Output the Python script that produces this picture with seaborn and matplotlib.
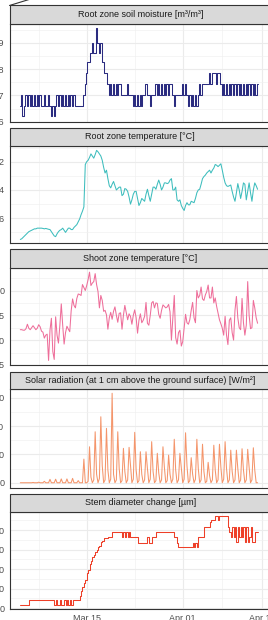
import numpy as np
import pandas as pd
import matplotlib
matplotlib.use("Agg")
import matplotlib.pyplot as plt
import matplotlib.dates as mdates
from matplotlib.lines import Line2D
from matplotlib.patches import Rectangle
from matplotlib.ticker import FixedLocator
import seaborn as sns

sns.set_theme(style="white")
plt.rcParams["font.family"] = ["Liberation Sans", "DejaVu Sans"]

# ---------------- data (6-hourly, from 2021-03-03 06:00) ----------------
start_time = "2021-03-03 06:00"

soil_moisture = [
    0.266, 0.270, 0.262,                 # Mar 03
    0.266, 0.270, 0.266, 0.270,          # Mar 04
    0.266, 0.270, 0.266, 0.270,          # Mar 05
    0.266, 0.270, 0.266, 0.270,          # Mar 06
    0.266, 0.266, 0.270, 0.266,          # Mar 07
    0.266, 0.270, 0.266, 0.262,          # Mar 08
    0.266, 0.262, 0.266, 0.270,          # Mar 09
    0.266, 0.270, 0.266, 0.270,          # Mar 10
    0.266, 0.270, 0.266, 0.270,          # Mar 11
    0.266, 0.270, 0.266, 0.270,          # Mar 12
    0.266, 0.266, 0.266, 0.266,          # Mar 13
    0.266, 0.266, 0.270, 0.2745,         # Mar 14
    0.2785, 0.2825, 0.2825, 0.286,       # Mar 15
    0.290, 0.286, 0.286, 0.2955,         # Mar 16
    0.290, 0.286, 0.290, 0.2825,         # Mar 17
    0.2825, 0.2785, 0.2785, 0.2745,      # Mar 18
    0.270, 0.2745, 0.270, 0.2745,        # Mar 19
    0.270, 0.2745, 0.270, 0.2745,        # Mar 20
    0.2745, 0.270, 0.270, 0.270,         # Mar 21
    0.270, 0.2745, 0.270, 0.270,         # Mar 22
    0.270, 0.266, 0.270, 0.266,          # Mar 23
    0.270, 0.266, 0.270, 0.266,          # Mar 24
    0.270, 0.270, 0.2745, 0.270,         # Mar 25
    0.270, 0.266, 0.270, 0.270,          # Mar 26
    0.270, 0.2745, 0.270, 0.2745,        # Mar 27
    0.270, 0.2745, 0.270, 0.2745,        # Mar 28
    0.270, 0.2745, 0.270, 0.2745,        # Mar 29
    0.2745, 0.270, 0.266, 0.270,         # Mar 30
    0.270, 0.270, 0.270, 0.270,          # Mar 31
    0.2745, 0.270, 0.2745, 0.270,        # Apr 01
    0.266, 0.270, 0.266, 0.270,          # Apr 02
    0.266, 0.270, 0.266, 0.270,          # Apr 03
    0.2745, 0.270, 0.2745, 0.2745,       # Apr 04
    0.2745, 0.2745, 0.2745, 0.2785,      # Apr 05
    0.2745, 0.2785, 0.2785, 0.2785,      # Apr 06
    0.2745, 0.2785, 0.2785, 0.2745,      # Apr 07
    0.270, 0.2745, 0.270, 0.2745,        # Apr 08
    0.270, 0.2745, 0.270, 0.2745,        # Apr 09
    0.270, 0.2745, 0.270, 0.2745,        # Apr 10
    0.270, 0.2745, 0.270, 0.2745,        # Apr 11
    0.270, 0.2745, 0.270, 0.2745,        # Apr 12
    0.270, 0.2745, 0.270, 0.2745,        # Apr 13
    0.270, 0.2745,                       # Apr 14
]

root_temp = [
    -7.5, -7.45, -7.35,
    -7.25, -7.15, -7.05, -6.95,
    -6.9, -6.85, -6.8, -6.75,
    -6.75, -6.7, -6.7, -6.7,
    -6.7, -6.72, -6.75, -6.72,
    -6.75, -6.78, -6.8, -6.95,
    -7.1, -7.25, -7.3, -7.1,
    -6.95, -6.85, -6.8, -6.7,
    -6.85, -7.0, -6.85, -6.7,
    -6.7, -6.8, -6.8, -6.65,
    -6.55, -6.45, -6.25, -6.05,
    -5.75, -5.5, -5.2, -2.2,
    -2.0, -1.9, -1.7, -1.45,
    -1.6, -1.75, -1.5, -1.2,
    -1.3, -1.45, -1.6, -1.9,
    -2.4, -2.8, -2.6, -3.2,
    -3.7, -3.85, -3.6, -3.4,
    -3.7, -4.0, -3.9, -3.8,
    -3.8, -4.4, -4.3, -3.9,
    -3.95, -4.1, -4.5, -5.0,
    -4.7, -4.3, -4.1, -4.1,
    -4.6, -5.1, -4.9, -4.6,
    -4.7, -4.8, -4.3, -3.95,
    -4.4, -4.8, -4.3, -3.8,
    -3.8, -3.95, -3.6, -3.3,
    -3.6, -4.0, -3.8, -3.5,
    -3.5, -3.55, -3.5, -3.3,
    -3.2, -4.0, -4.0, -3.8,
    -4.7, -4.8, -4.7, -5.1,
    -5.3, -5.45, -5.1, -4.9,
    -5.05, -5.05, -4.8, -4.85,
    -4.9, -4.6, -4.2, -4.0,
    -3.95, -3.6, -3.2, -3.05,
    -2.95, -2.8, -2.7, -2.6,
    -2.8, -2.6, -2.45, -2.2,
    -2.25, -2.35, -2.25, -2.15,
    -2.6, -3.1, -3.5, -3.7,
    -3.75, -3.7, -3.65, -4.1,
    -4.5, -4.8, -4.2, -3.55,
    -4.0, -4.6, -4.1, -3.5,
    -3.6, -4.7, -4.1, -3.5,
    -4.2, -4.8, -4.0, -3.5,
    -3.7, -3.95,
]

shoot_temp = [
    -7.9, -7.9, -8.0,
    -8.0, -7.7, -6.8, -7.6,
    -7.9, -7.5, -7.1, -7.5,
    -7.9, -7.6, -6.9, -7.3,
    -8.2, -8.4, -9.6, -9.0,
    -8.8, -14.1, -8.0, -5.6,
    -12.3, -13.9, -5.3, -9.0,
    -10.6, -7.0, -2.7, -7.0,
    -10.8, -8.5, -7.2, -7.8,
    -8.3, -4.1, -1.7, -3.0,
    -3.5, -1.6, -0.7, -0.8,
    -1.0, 1.2, 0.6, 0.0,
    1.0, 2.2, 3.7, 1.0,
    1.5, 1.8, 3.4, 1.2,
    -0.2, -3.5, -1.0, -2.0,
    -4.2, -4.0, -4.9, -7.8,
    -5.5, -4.4, -5.8, -4.2,
    -3.3, -5.0, -6.4, -4.6,
    -4.5, -7.8, -5.0, -3.0,
    -4.5, -5.9, -4.7, -5.2,
    -6.8, -5.0, -3.9, -5.5,
    -8.6, -6.0, -4.7, -6.5,
    -6.0, -5.2, -2.4, -6.6,
    -7.0, -5.0, -2.5, -2.2,
    -3.5, -2.5, -2.6, -4.8,
    -5.6, -4.0, -2.9, -3.2,
    -3.5, -3.3, -2.8, -4.3,
    -10.0, -5.5, -1.0, -9.5,
    -10.8, -8.5, -8.0, -11.2,
    -10.3, -7.5, -4.8, -6.5,
    -6.8, -5.9, -4.0, -2.4,
    -5.5, -6.5, 0.0, -1.5,
    -1.0, 0.7, -1.7, -2.0,
    -0.9, -0.2, 1.1, -1.5,
    -1.5, 0.7, -2.5, -1.5,
    -3.2, -4.5, -5.9, -6.7,
    -7.6, -9.0, -5.2, -9.0,
    -10.9, -6.0, -5.5, -8.5,
    -10.0, -4.0, -1.2, -5.5,
    -7.5, -7.9, -1.6, -6.5,
    -9.0, -7.0, 1.8, -5.0,
    -7.7, -7.5, -2.0, -3.5,
    -5.5, -6.6,
]

solar_radiation = [
    0, 0, 0,
    0, 0, 0, 0,
    0, 0, 2, 0,
    0, 0, 4, 0,
    0, 0, 10, 0,
    0, 0, 24, 0,
    0, 0, 25, 0,
    0, 0, 27, 0,
    0, 0, 27, 0,
    0, 0, 31, 0,
    0, 0, 15, 0,
    0, 0, 167, 0,
    0, 10, 254, 40,
    0, 20, 360, 60,
    0, 30, 466, 120,
    0, 20, 384, 90,
    0, 25, 632, 60,
    0, 20, 360, 100,
    0, 15, 243, 80,
    0, 20, 250, 120,
    0, 25, 356, 90,
    0, 15, 219, 60,
    0, 20, 219, 100,
    0, 25, 290, 80,
    0, 15, 208, 70,
    0, 20, 254, 110,
    0, 15, 195, 60,
    0, 25, 307, 90,
    0, 20, 208, 100,
    0, 25, 353, 120,
    0, 15, 177, 60,
    0, 25, 307, 100,
    0, 20, 272, 80,
    0, 10, 144, 50,
    0, 20, 265, 90,
    0, 20, 272, 110,
    0, 25, 290, 100,
    0, 20, 230, 80,
    0, 20, 230, 100,
    0, 20, 240, 90,
    0, 20, 236, 110,
    0, 20, 247, 90,
    0, 0,
]

stem_diameter = [
    8, 8, 8,
    8, 8, 8, 21,
    21, 21, 21, 21,
    21, 21, 21, 21,
    21, 21, 21, 21,
    21, 21, 21, 21,
    21, 8, 21, 8,
    8, 21, 8, 8,
    21, 8, 21, 8,
    21, 8, 21, 21,
    21, 21, 21, 30,
    45, 55, 65, 72,
    89, 98, 112, 120,
    130, 136, 145, 149,
    157, 160, 170, 172,
    180, 180, 180, 182,
    182, 182, 195, 195,
    195, 195, 195, 195,
    195, 182, 195, 182,
    195, 182, 195, 182,
    182, 182, 182, 182,
    168, 168, 168, 168,
    168, 168, 168, 182,
    168, 168, 182, 182,
    182, 195, 195, 195,
    195, 195, 195, 195,
    195, 195, 195, 195,
    195, 195, 182, 182,
    168, 157, 157, 157,
    157, 157, 157, 157,
    157, 157, 157, 168,
    157, 168, 157, 182,
    182, 182, 182, 208,
    208, 208, 208, 220,
    225, 225, 225, 236,
    236, 225, 236, 236,
    236, 236, 236, 236,
    208, 195, 182, 208,
    182, 208, 170, 208,
    182, 208, 182, 208,
    170, 208, 170, 182,
    208, 170, 170, 195,
    195, 195,
]

panel_titles = [
    "Root zone soil moisture [m³/m³]",
    "Root zone temperature [°C]",
    "Shoot zone temperature [°C]",
    "Solar radiation (at 1 cm above the ground surface) [W/m²]",
    "Stem diameter change [µm]",
]
panel_series = [soil_moisture, root_temp, shoot_temp, solar_radiation, stem_diameter]
panel_colors = ["#2B2C80", "#3DBDBD", "#EE6E9A", "#F4956B", "#EE3F28"]
panel_drawstyle = ["steps-mid", "default", "default", "default", "steps-post"]

y_major = [
    [0.26, 0.27, 0.28, 0.29],
    [-6, -4, -2],
    [-15, -10, -5, 0],
    [0, 200, 400, 600],
    [0, 50, 100, 150, 200],
]
y_minor = [
    [0.265, 0.275, 0.285, 0.295],
    [-7, -5, -3, -1],
    [-12.5, -7.5, -2.5, 2.5],
    [100, 300, 500],
    [25, 75, 125, 175, 225],
]
y_limits = [
    (0.2599, 0.2971),
    (-7.75, -0.87),
    (-15.02, 4.6),
    (-35, 660),
    (-2, 247),
]
y_fmt = ["{:.2f}", "{:g}", "{:g}", "{:g}", "{:g}"]

x_major_dates = ["2021-03-15 00:00", "2021-04-01 00:00", "2021-04-15 00:00"]
x_major_labels = ["Mar 15", "Apr 01", "Apr 15"]
x_minor_dates = ["2021-03-06 12:00", "2021-03-23 12:00", "2021-04-08 00:00"]
x_limits = ("2021-03-01 08:00", "2021-04-16 15:00")

# ---------------- layout (pixels) ----------------
W, H = 268, 620
left_px, right_px = 9.5, 271.0
strip_tops = [5.0, 127.7, 249.0, 371.7, 494.0]
plot_tops = [24.0, 145.7, 267.7, 389.3, 511.7]
plot_bottoms = [122.0, 243.0, 365.0, 487.7, 609.0]

fig = plt.figure(figsize=(W / 100, H / 100), dpi=100)

edge = "#333333"
major_x = mdates.date2num([pd.Timestamp(d) for d in x_major_dates])
minor_x = mdates.date2num([pd.Timestamp(d) for d in x_minor_dates])

for i in range(5):
    vals = panel_series[i]
    t = pd.date_range(start_time, periods=len(vals), freq="6h")
    df = pd.DataFrame({"time": t, "value": vals})
    ax = fig.add_axes([left_px / W, 1 - plot_bottoms[i] / H,
                       (right_px - left_px) / W,
                       (plot_bottoms[i] - plot_tops[i]) / H])
    sns.lineplot(data=df, x="time", y="value", ax=ax, color=panel_colors[i],
                 linewidth=0.75, drawstyle=panel_drawstyle[i], estimator=None)
    ax.set_xlim(pd.Timestamp(x_limits[0]), pd.Timestamp(x_limits[1]))
    ax.set_ylim(*y_limits[i])
    ax.set_xlabel("")
    ax.set_ylabel("")

    ax.yaxis.set_major_locator(FixedLocator(y_major[i]))
    ax.yaxis.set_minor_locator(FixedLocator(y_minor[i]))
    ax.set_yticklabels([y_fmt[i].format(v) for v in y_major[i]])
    ax.xaxis.set_major_locator(FixedLocator(major_x))
    ax.xaxis.set_minor_locator(FixedLocator(minor_x))

    ax.set_axisbelow(True)
    ax.grid(which="major", color="#EBEBEB", linewidth=0.8)
    ax.grid(which="minor", color="#F0F0F0", linewidth=0.45)
    for s in ax.spines.values():
        s.set_color(edge)
        s.set_linewidth(0.8)

    ax.tick_params(axis="y", which="major", length=2.2, width=0.6, color=edge,
                   labelsize=6.5, labelcolor="#4D4D4D", pad=1.6)
    ax.tick_params(which="minor", length=0)
    if i == 4:
        ax.set_xticklabels(x_major_labels)
        ax.tick_params(axis="x", which="major", length=2.2, width=0.6, color=edge,
                       labelsize=6.5, labelcolor="#4D4D4D", pad=1.6)
    else:
        ax.tick_params(axis="x", which="major", length=0, labelbottom=False)

    # facet strip
    rect = Rectangle((left_px / W, 1 - plot_tops[i] / H),
                     (right_px - left_px) / W,
                     (plot_tops[i] - strip_tops[i]) / H,
                     transform=fig.transFigure, facecolor="#D9D9D9",
                     edgecolor=edge, linewidth=0.8, clip_on=False)
    fig.add_artist(rect)
    fig.text((left_px + right_px) / 2 / W,
             1 - (strip_tops[i] + plot_tops[i]) / 2 / H,
             panel_titles[i], ha="center", va="center",
             fontsize=6.5, color="#1A1A1A")

# connector line at the top left
fig.add_artist(Line2D([left_px / W, 29 / W], [1 - 5.5 / H, 1 + 0.5 / H],
                      transform=fig.transFigure, color=edge, linewidth=0.8))

fig.savefig("out.png", dpi=100)
